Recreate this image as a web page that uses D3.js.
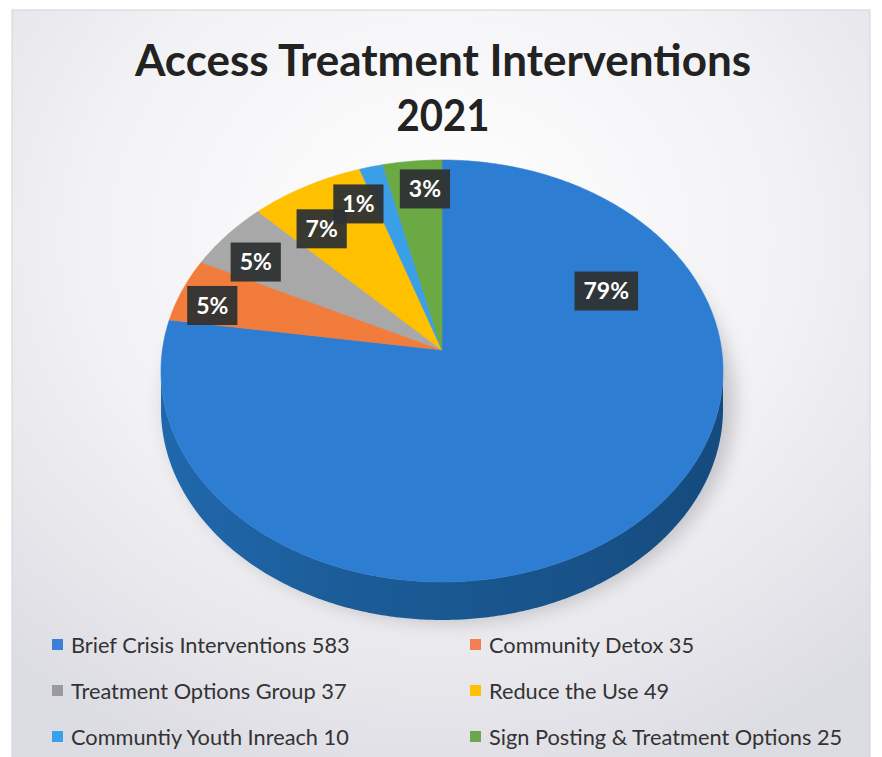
<!DOCTYPE html>
<html>
<head>
<meta charset="utf-8">
<script src="https://cdn.jsdelivr.net/npm/d3@7"></script>
<style>
  html, body { margin: 0; padding: 0; background: #ffffff; }
  svg { display: block; }
</style>
</head>
<body>
<svg id="chart" width="882" height="757"></svg>
<script>
// ---------------- DATA ----------------
const titleLines = ["Access Treatment Interventions", "2021"];
const categories = [
  "Brief Crisis Interventions",
  "Community Detox",
  "Treatment Options Group",
  "Reduce the Use",
  "Communtiy Youth Inreach",
  "Sign Posting & Treatment Options"
];
const values = [583, 35, 37, 49, 10, 25];
const topColors  = ["#2d7dd2", "#f17c3c", "#a8a8a8", "#ffc000", "#3b9fe8", "#6aa944"];
const sideColors = ["#1a5b95", "#b85a26", "#7c7c7c", "#bf9000", "#2b75ad", "#4e7e31"];
const legendColors = ["#3b80d4", "#f0804f", "#9a9a9e", "#ffc000", "#3aa0ee", "#6ca64e"];

// ---------------- LAYOUT ----------------
const W = 882, H = 757;
const apex = { x: 442, y: 350 };          // where slices meet
const ell = { cx: 442, cy: 371, rx: 281, ry: 211 };
const depth = 38;
// label placement: [angle in degrees clockwise from 12 o'clock, fraction apex->rim]
const labelPlacement = [[59.3, 0.68], [290, 0.87], [307, 0.83], [326.7, 0.78], [339, 0.83], [355.9, 0.85]];

const svg = d3.select("#chart");
const defs = svg.append("defs");

// background
const bg = defs.append("radialGradient").attr("id", "bgGrad")
  .attr("cx", "50%").attr("cy", "30%").attr("r", "75%");
bg.append("stop").attr("offset", "0%").attr("stop-color", "#ffffff");
bg.append("stop").attr("offset", "55%").attr("stop-color", "#f2f2f5");
bg.append("stop").attr("offset", "100%").attr("stop-color", "#dcdce3");
svg.append("rect").attr("x", 12).attr("y", 10).attr("width", 858).attr("height", 760)
  .attr("fill", "url(#bgGrad)").attr("stroke", "#d4d4d8").attr("stroke-width", 1);

// shadow filter
const f = defs.append("filter").attr("id", "blur").attr("x", "-20%").attr("y", "-20%")
  .attr("width", "140%").attr("height", "140%");
f.append("feGaussianBlur").attr("stdDeviation", 9);

// side gradient
const sg = defs.append("linearGradient").attr("id", "sideGrad")
  .attr("x1", "0%").attr("x2", "100%").attr("y1", "0%").attr("y2", "0%");
sg.append("stop").attr("offset", "0%").attr("stop-color", "#2068ad");
sg.append("stop").attr("offset", "35%").attr("stop-color", "#1b5c97");
sg.append("stop").attr("offset", "100%").attr("stop-color", "#154b7e");

// ---------------- PIE GEOMETRY ----------------
const pie = d3.pie().sort(null).value(d => d).startAngle(0).endAngle(2 * Math.PI);
const arcs = pie(values);
const total = d3.sum(values);

const rim = (a, dy = 0) => [ell.cx + ell.rx * Math.sin(a), ell.cy - ell.ry * Math.cos(a) + dy];
const line = d3.line();
function rimPoints(a0, a1, dy = 0) {
  const n = Math.max(2, Math.ceil((a1 - a0) / 0.01));
  return d3.range(n + 1).map(i => rim(a0 + (a1 - a0) * i / n, dy));
}

// shadow
svg.append("ellipse")
  .attr("cx", ell.cx + 8).attr("cy", ell.cy + depth / 2 + 14)
  .attr("rx", ell.rx + 4).attr("ry", ell.ry + 8)
  .attr("fill", "#8e8e96").attr("opacity", 0.45).attr("filter", "url(#blur)");

// sides (front half only)
const sideG = svg.append("g");
arcs.forEach((d, i) => {
  const a0 = Math.max(d.startAngle, Math.PI / 2);
  const a1 = Math.min(d.endAngle, 3 * Math.PI / 2);
  if (a1 <= a0) return;
  const pts = rimPoints(a0, a1).concat(rimPoints(a0, a1, depth).reverse());
  sideG.append("path")
    .attr("d", line(pts) + "Z")
    .attr("fill", i === 0 ? "url(#sideGrad)" : sideColors[i]);
});

// top faces
const topG = svg.append("g");
arcs.forEach((d, i) => {
  const pts = [[apex.x, apex.y]].concat(rimPoints(d.startAngle, d.endAngle));
  topG.append("path")
    .attr("d", line(pts) + "Z")
    .attr("fill", topColors[i])
    .attr("stroke", topColors[i]).attr("stroke-width", 0.6);
});

// ---------------- LABELS ----------------
const labG = svg.append("g");
arcs.forEach((d, i) => {
  const [deg, r] = labelPlacement[i];
  const a = deg * Math.PI / 180;
  const [rxp, ryp] = rim(a);
  const x = apex.x + r * (rxp - apex.x);
  const y = apex.y + r * (ryp - apex.y);
  const txt = Math.round(d.value / total * 100) + "%";
  const g = labG.append("g").attr("transform", `translate(${x},${y})`);
  const rect = g.append("rect").attr("fill", "#2e3133").attr("opacity", 0.95);
  const t = g.append("text").text(txt)
    .attr("text-anchor", "middle").attr("dy", "0.36em")
    .attr("font-family", "Lato, 'Open Sans', sans-serif").attr("font-weight", "bold")
    .attr("font-size", 23).attr("fill", "#ffffff");
  const w = t.node().getComputedTextLength() + 18;
  const h = 39;
  rect.attr("x", -w / 2).attr("y", -h / 2).attr("width", w).attr("height", h);
});

// ---------------- TITLE ----------------
const titleG = svg.append("g").attr("font-family", "Lato, 'Open Sans', sans-serif")
  .attr("font-weight", "bold").attr("fill", "#222222");
const t1 = titleG.append("text").text(titleLines[0])
  .attr("x", 443).attr("y", 76).attr("text-anchor", "middle").attr("font-size", 44);
const w1 = t1.node().getComputedTextLength();
if (Math.abs(w1 - 620) > 4) t1.attr("textLength", 620).attr("lengthAdjust", "spacingAndGlyphs");
const t2 = titleG.append("text").text(titleLines[1])
  .attr("x", 443).attr("y", 131).attr("text-anchor", "middle").attr("font-size", 44);
const w2 = t2.node().getComputedTextLength();
if (Math.abs(w2 - 93) > 3) t2.attr("textLength", 93).attr("lengthAdjust", "spacingAndGlyphs");

// ---------------- LEGEND ----------------
const legX = [52, 470];
const legY = [645, 691, 737];
const legG = svg.append("g").attr("font-family", "Lato, 'Open Sans', sans-serif")
  .attr("font-size", 19).attr("fill", "#333333");
// fit font to reference width of first entry
const probe = legG.append("text").text(categories[0] + " " + values[0]);
const scale = 279 / probe.node().getComputedTextLength();
probe.remove();
legG.attr("font-size", 19 * scale);
categories.forEach((c, i) => {
  const x = legX[i % 2], y = legY[Math.floor(i / 2)];
  legG.append("rect").attr("x", x).attr("y", y - 6).attr("width", 11).attr("height", 11)
    .attr("fill", legendColors[i]);
  legG.append("text").attr("x", x + 19).attr("y", y).attr("dy", "0.35em")
    .text(c + " " + values[i]);
});
</script>
</body>
</html>
